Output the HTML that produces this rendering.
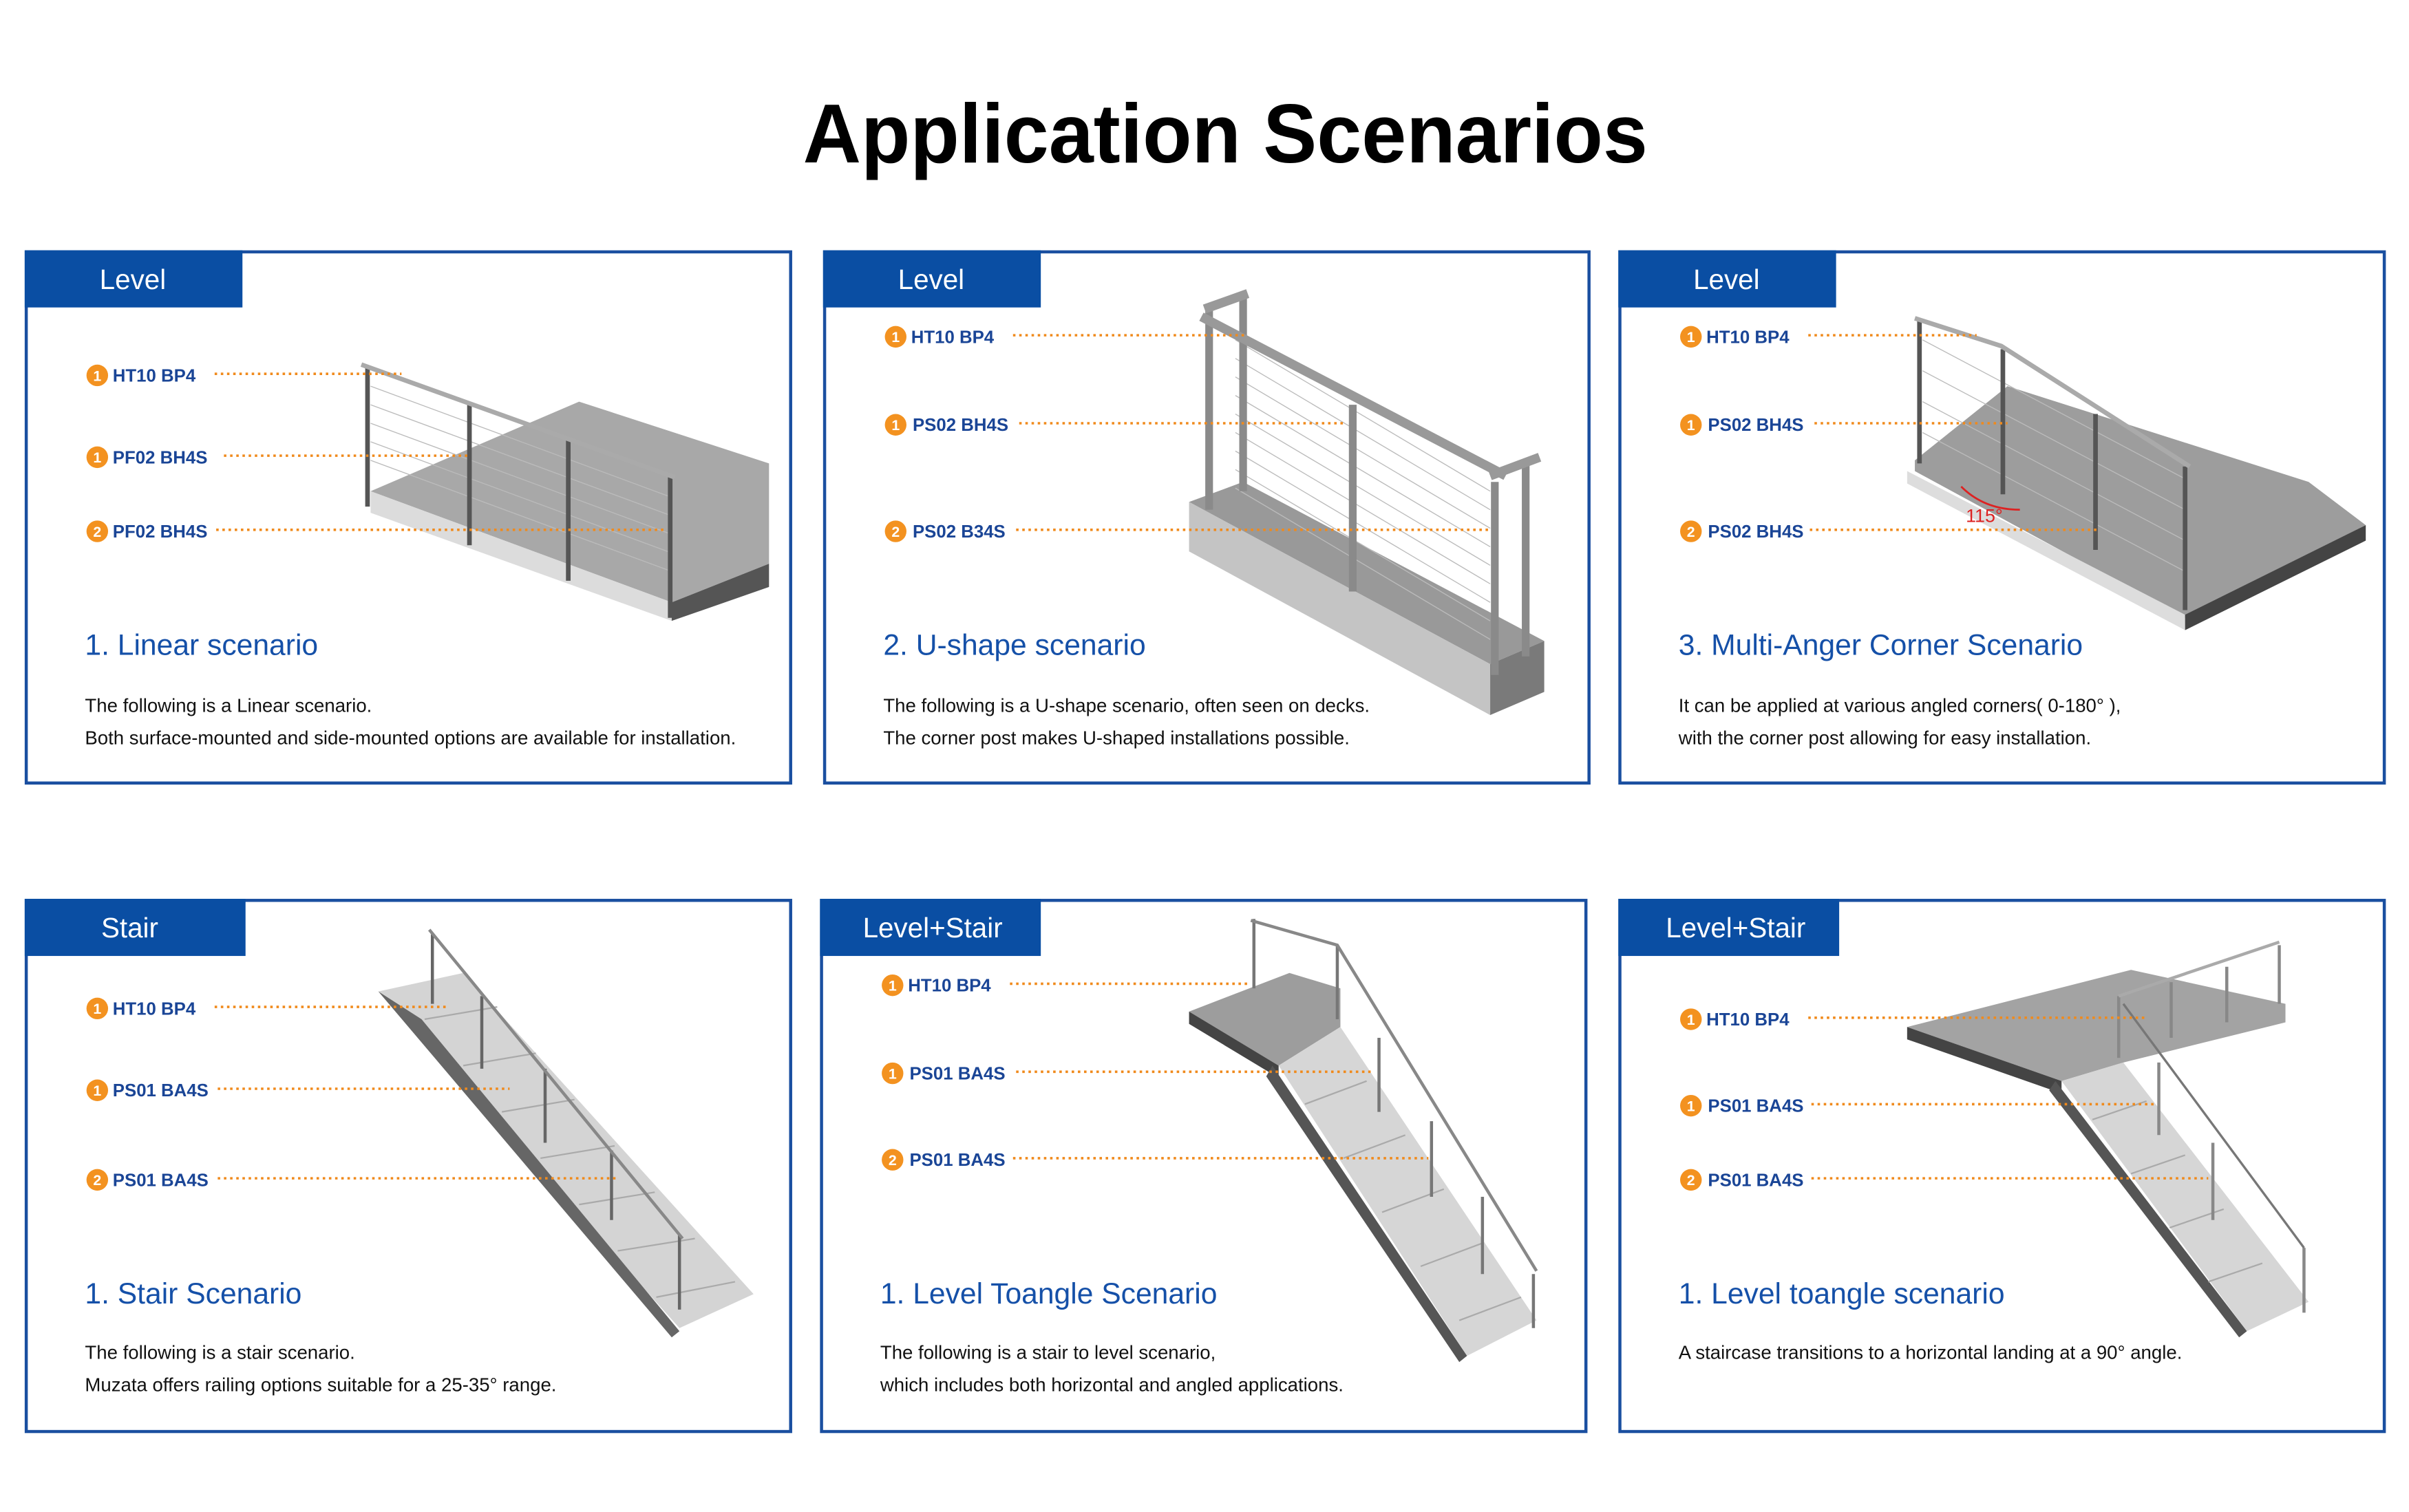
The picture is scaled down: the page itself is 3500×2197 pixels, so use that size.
<!DOCTYPE html>
<html><head><meta charset="utf-8"><style>
html,body{margin:0;padding:0;background:#fff;}
svg{display:block;}
text{font-family:"Liberation Sans",sans-serif;}
.lab{font-size:11.5px;font-weight:bold;fill:#1a4596;}
.num{font-size:9.5px;font-weight:bold;fill:#fff;}
.tit{font-size:19px;fill:#1550a8;}
.desc{font-size:12.3px;fill:#111;}
.tab{font-size:18px;fill:#fff;}
.dot{stroke:#f08a1c;stroke-width:1.6;stroke-dasharray:1.6 2.4;}
.pn{fill:none;stroke:#1a4fa0;stroke-width:2;}
.post{stroke:#555;stroke-width:3;}
.cab{stroke:#bbb;stroke-width:0.6;}
</style></head><body>
<svg width="3500" height="2197" viewBox="0 0 1560 979" xmlns="http://www.w3.org/2000/svg">
<text x="520" y="105" textLength="547" lengthAdjust="spacingAndGlyphs" font-size="54" font-weight="bold" fill="#000">Application Scenarios</text>

<!-- Panel frames and tabs -->
<rect class="pn" x="17" y="163" width="495" height="344"/><rect x="16" y="162" width="141" height="37" fill="#0a4ea3"/><text class="tab" x="86" y="187" text-anchor="middle">Level</text>
<rect class="pn" x="534" y="163" width="495" height="344"/><rect x="533" y="162" width="141" height="37" fill="#0a4ea3"/><text class="tab" x="603" y="187" text-anchor="middle">Level</text>
<rect class="pn" x="1049" y="163" width="495" height="344"/><rect x="1048" y="162" width="141" height="37" fill="#0a4ea3"/><text class="tab" x="1118" y="187" text-anchor="middle">Level</text>
<rect class="pn" x="17" y="583" width="495" height="344"/><rect x="16" y="582" width="143" height="37" fill="#0a4ea3"/><text class="tab" x="84" y="607" text-anchor="middle">Stair</text>
<rect class="pn" x="532" y="583" width="495" height="344"/><rect x="531" y="582" width="143" height="37" fill="#0a4ea3"/><text class="tab" x="604" y="607" text-anchor="middle">Level+Stair</text>
<rect class="pn" x="1049" y="583" width="495" height="344"/><rect x="1048" y="582" width="143" height="37" fill="#0a4ea3"/><text class="tab" x="1124" y="607" text-anchor="middle">Level+Stair</text>

<!-- P1 -->
<polygon points="240,318 375,260 498,300 498,365 435,390" fill="#a8a8a8"/>
<polygon points="240,318 435,390 435,402 240,332" fill="#dcdcdc"/>
<polygon points="435,390 498,365 498,380 435,402" fill="#555"/>
<g class="cab"><line x1="240" y1="250" x2="435" y2="322"/><line x1="240" y1="262" x2="435" y2="334"/><line x1="240" y1="274" x2="435" y2="346"/><line x1="240" y1="286" x2="435" y2="358"/><line x1="240" y1="298" x2="435" y2="370"/></g>
<line class="post" x1="238" y1="238" x2="238" y2="328"/><line class="post" x1="304" y1="262" x2="304" y2="353"/><line class="post" x1="368" y1="285" x2="368" y2="376"/><line class="post" x1="434" y1="308" x2="434" y2="400"/>
<line x1="234" y1="236" x2="437" y2="309" stroke="#aaa" stroke-width="3"/>
<!-- P2 -->
<polygon points="770,325 805,312 1000,415 965,430" fill="#999"/>
<polygon points="770,325 965,430 965,463 770,357" fill="#c4c4c4"/>
<polygon points="965,430 1000,415 1000,448 965,463" fill="#7a7a7a"/>
<g class="cab"><line x1="800" y1="220" x2="965" y2="318"/><line x1="800" y1="232" x2="965" y2="330"/><line x1="800" y1="244" x2="965" y2="342"/><line x1="800" y1="256" x2="965" y2="354"/><line x1="800" y1="268" x2="965" y2="366"/><line x1="800" y1="280" x2="965" y2="378"/><line x1="800" y1="292" x2="965" y2="390"/><line x1="800" y1="304" x2="965" y2="402"/><line x1="800" y1="316" x2="965" y2="414"/></g>
<g stroke="#8a8a8a" stroke-width="5"><line x1="783" y1="200" x2="783" y2="330"/><line x1="805" y1="192" x2="805" y2="318"/><line x1="876" y1="262" x2="876" y2="383"/><line x1="968" y1="312" x2="968" y2="437"/><line x1="988" y1="300" x2="988" y2="425"/></g>
<line x1="778" y1="205" x2="975" y2="308" stroke="#999" stroke-width="6"/><line x1="780" y1="200" x2="808" y2="190" stroke="#999" stroke-width="6"/><line x1="965" y1="308" x2="997" y2="296" stroke="#999" stroke-width="6"/>
<!-- P3 -->
<polygon points="1240,298 1300,250 1495,312 1532,340 1415,400 1240,305" fill="#9d9d9d"/>
<polygon points="1235,305 1415,398 1415,408 1235,313" fill="#ddd"/>
<polygon points="1415,398 1532,340 1532,350 1415,408" fill="#444"/>
<g class="cab"><line x1="1245" y1="220" x2="1415" y2="310"/><line x1="1245" y1="240" x2="1415" y2="330"/><line x1="1245" y1="260" x2="1415" y2="350"/><line x1="1245" y1="280" x2="1415" y2="370"/></g>
<g class="post"><line x1="1243" y1="208" x2="1243" y2="300"/><line x1="1297" y1="226" x2="1297" y2="320"/><line x1="1357" y1="268" x2="1357" y2="356"/><line x1="1415" y1="302" x2="1415" y2="395"/></g>
<polyline points="1240,206 1296,224 1418,302" fill="none" stroke="#aaa" stroke-width="3"/>
<path d="M1270,315 Q1285,330 1308,330" fill="none" stroke="#d22" stroke-width="1.2"/><text x="1273" y="338" font-size="12" fill="#d22">115°</text>
<!-- P4 stair -->
<polygon points="245,642 300,630 488,838 440,860" fill="#d4d4d4"/>
<polygon points="245,642 273,660 440,862 435,866" fill="#666"/>
<g stroke="#aaa" stroke-width="1"><line x1="275" y1="660" x2="322" y2="652"/><line x1="300" y1="690" x2="347" y2="682"/><line x1="325" y1="720" x2="372" y2="712"/><line x1="350" y1="750" x2="398" y2="742"/><line x1="375" y1="780" x2="424" y2="772"/><line x1="400" y1="810" x2="450" y2="802"/><line x1="425" y1="840" x2="476" y2="830"/></g>
<g stroke="#666" stroke-width="2"><line x1="280" y1="605" x2="280" y2="650"/><line x1="312" y1="645" x2="312" y2="692"/><line x1="353" y1="692" x2="353" y2="740"/><line x1="396" y1="745" x2="396" y2="790"/><line x1="440" y1="800" x2="440" y2="848"/></g>
<line x1="278" y1="602" x2="442" y2="802" stroke="#888" stroke-width="2"/>
<!-- P5 -->
<polygon points="770,655 835,630 868,640 868,665 828,690" fill="#9d9d9d"/>
<polygon points="770,655 828,690 828,698 770,663" fill="#444"/>
<polygon points="828,690 868,665 995,855 950,878" fill="#d6d6d6"/>
<polygon points="824,690 950,878 945,882 820,697" fill="#555"/>
<g stroke="#aaa" stroke-width="1"><line x1="845" y1="715" x2="885" y2="700"/><line x1="870" y1="750" x2="910" y2="735"/><line x1="895" y1="785" x2="935" y2="770"/><line x1="920" y1="820" x2="960" y2="805"/><line x1="945" y1="855" x2="985" y2="840"/></g>
<g stroke="#777" stroke-width="2"><line x1="812" y1="595" x2="812" y2="640"/><line x1="866" y1="612" x2="866" y2="660"/><line x1="893" y1="672" x2="893" y2="720"/><line x1="927" y1="726" x2="927" y2="775"/><line x1="960" y1="775" x2="960" y2="825"/><line x1="993" y1="825" x2="993" y2="860"/></g>
<polyline points="810,596 866,612 995,823" fill="none" stroke="#888" stroke-width="2"/>
<!-- P6 -->
<polygon points="1235,665 1380,628 1480,650 1480,662 1375,688 1335,700" fill="#a3a3a3"/>
<polygon points="1235,665 1335,700 1335,708 1235,673" fill="#444"/>
<polygon points="1335,700 1375,688 1495,843 1455,862" fill="#d6d6d6"/>
<polygon points="1331,700 1455,862 1450,866 1327,706" fill="#555"/>
<g stroke="#aaa" stroke-width="1"><line x1="1355" y1="725" x2="1390" y2="713"/><line x1="1380" y1="760" x2="1415" y2="748"/><line x1="1405" y1="795" x2="1440" y2="783"/><line x1="1430" y1="830" x2="1465" y2="818"/></g>
<g stroke="#888" stroke-width="2"><line x1="1372" y1="645" x2="1372" y2="685"/><line x1="1406" y1="636" x2="1406" y2="672"/><line x1="1442" y1="626" x2="1442" y2="662"/><line x1="1476" y1="612" x2="1476" y2="650"/><line x1="1398" y1="688" x2="1398" y2="735"/><line x1="1433" y1="740" x2="1433" y2="790"/><line x1="1492" y1="808" x2="1492" y2="850"/></g>
<polyline points="1372,645 1476,610" fill="none" stroke="#aaa" stroke-width="2"/><polyline points="1375,650 1492,808" fill="none" stroke="#777" stroke-width="1.5"/>

<!-- Labels -->
<!-- P1 -->
<line class="dot" x1="139" y1="242" x2="260" y2="242"/><line class="dot" x1="145" y1="295" x2="305" y2="295"/><line class="dot" x1="140" y1="343" x2="432" y2="343"/>
<circle cx="63" cy="243" r="7" fill="#f39220"/><text class="num" x="63" y="246.5" text-anchor="middle">1</text><text class="lab" x="73" y="247">HT10 BP4</text>
<circle cx="63" cy="296" r="7" fill="#f39220"/><text class="num" x="63" y="299.5" text-anchor="middle">1</text><text class="lab" x="73" y="300">PF02 BH4S</text>
<circle cx="63" cy="344" r="7" fill="#f39220"/><text class="num" x="63" y="347.5" text-anchor="middle">2</text><text class="lab" x="73" y="348">PF02 BH4S</text>
<text class="tit" x="55" y="424">1. Linear scenario</text>
<text class="desc" x="55" y="461">The following is a Linear scenario.</text>
<text class="desc" x="55" y="482">Both surface-mounted and side-mounted options are available for installation.</text>
<!-- P2 -->
<line class="dot" x1="656" y1="217" x2="806" y2="217"/><line class="dot" x1="660" y1="274" x2="870" y2="274"/><line class="dot" x1="658" y1="343" x2="965" y2="343"/>
<circle cx="580" cy="218" r="7" fill="#f39220"/><text class="num" x="580" y="221.5" text-anchor="middle">1</text><text class="lab" x="590" y="222">HT10 BP4</text>
<circle cx="580" cy="275" r="7" fill="#f39220"/><text class="num" x="580" y="278.5" text-anchor="middle">1</text><text class="lab" x="591" y="279">PS02 BH4S</text>
<circle cx="580" cy="344" r="7" fill="#f39220"/><text class="num" x="580" y="347.5" text-anchor="middle">2</text><text class="lab" x="591" y="348">PS02 B34S</text>
<text class="tit" x="572" y="424">2. U-shape scenario</text>
<text class="desc" x="572" y="461">The following is a U-shape scenario, often seen on decks.</text>
<text class="desc" x="572" y="482">The corner post makes U-shaped installations possible.</text>
<!-- P3 -->
<line class="dot" x1="1171" y1="217" x2="1280" y2="217"/><line class="dot" x1="1175" y1="274" x2="1300" y2="274"/><line class="dot" x1="1172" y1="343" x2="1360" y2="343"/>
<circle cx="1095" cy="218" r="7" fill="#f39220"/><text class="num" x="1095" y="221.5" text-anchor="middle">1</text><text class="lab" x="1105" y="222">HT10 BP4</text>
<circle cx="1095" cy="275" r="7" fill="#f39220"/><text class="num" x="1095" y="278.5" text-anchor="middle">1</text><text class="lab" x="1106" y="279">PS02 BH4S</text>
<circle cx="1095" cy="344" r="7" fill="#f39220"/><text class="num" x="1095" y="347.5" text-anchor="middle">2</text><text class="lab" x="1106" y="348">PS02 BH4S</text>
<text class="tit" x="1087" y="424">3. Multi-Anger Corner Scenario</text>
<text class="desc" x="1087" y="461">It can be applied at various angled corners( 0-180° ),</text>
<text class="desc" x="1087" y="482">with the corner post allowing for easy installation.</text>
<!-- P4 -->
<line class="dot" x1="139" y1="652" x2="290" y2="652"/><line class="dot" x1="141" y1="705" x2="330" y2="705"/><line class="dot" x1="141" y1="763" x2="400" y2="763"/>
<circle cx="63" cy="653" r="7" fill="#f39220"/><text class="num" x="63" y="656.5" text-anchor="middle">1</text><text class="lab" x="73" y="657">HT10 BP4</text>
<circle cx="63" cy="706" r="7" fill="#f39220"/><text class="num" x="63" y="709.5" text-anchor="middle">1</text><text class="lab" x="73" y="710">PS01 BA4S</text>
<circle cx="63" cy="764" r="7" fill="#f39220"/><text class="num" x="63" y="767.5" text-anchor="middle">2</text><text class="lab" x="73" y="768">PS01 BA4S</text>
<text class="tit" x="55" y="844">1. Stair Scenario</text>
<text class="desc" x="55" y="880">The following is a stair scenario.</text>
<text class="desc" x="55" y="901">Muzata offers railing options suitable for a 25-35°  range.</text>
<!-- P5 -->
<line class="dot" x1="654" y1="637" x2="810" y2="637"/><line class="dot" x1="658" y1="694" x2="890" y2="694"/><line class="dot" x1="656" y1="750" x2="925" y2="750"/>
<circle cx="578" cy="638" r="7" fill="#f39220"/><text class="num" x="578" y="641.5" text-anchor="middle">1</text><text class="lab" x="588" y="642">HT10 BP4</text>
<circle cx="578" cy="695" r="7" fill="#f39220"/><text class="num" x="578" y="698.5" text-anchor="middle">1</text><text class="lab" x="589" y="699">PS01 BA4S</text>
<circle cx="578" cy="751" r="7" fill="#f39220"/><text class="num" x="578" y="754.5" text-anchor="middle">2</text><text class="lab" x="589" y="755">PS01 BA4S</text>
<text class="tit" x="570" y="844">1. Level Toangle Scenario</text>
<text class="desc" x="570" y="880">The following is a stair to level scenario,</text>
<text class="desc" x="570" y="901">which includes both horizontal and angled applications.</text>
<!-- P6 -->
<line class="dot" x1="1171" y1="659" x2="1390" y2="659"/><line class="dot" x1="1173" y1="715" x2="1395" y2="715"/><line class="dot" x1="1173" y1="763" x2="1430" y2="763"/>
<circle cx="1095" cy="660" r="7" fill="#f39220"/><text class="num" x="1095" y="663.5" text-anchor="middle">1</text><text class="lab" x="1105" y="664">HT10 BP4</text>
<circle cx="1095" cy="716" r="7" fill="#f39220"/><text class="num" x="1095" y="719.5" text-anchor="middle">1</text><text class="lab" x="1106" y="720">PS01 BA4S</text>
<circle cx="1095" cy="764" r="7" fill="#f39220"/><text class="num" x="1095" y="767.5" text-anchor="middle">2</text><text class="lab" x="1106" y="768">PS01 BA4S</text>
<text class="tit" x="1087" y="844">1. Level toangle scenario</text>
<text class="desc" x="1087" y="880">A staircase transitions to a horizontal landing at a 90°  angle.</text>
</svg>
</body></html>
